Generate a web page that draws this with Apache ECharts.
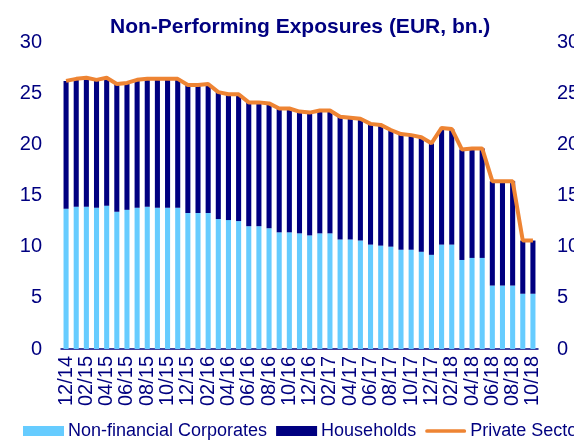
<!DOCTYPE html>
<html>
<head>
<meta charset="utf-8">
<title>Non-Performing Exposures</title>
<script src="https://cdn.jsdelivr.net/npm/echarts@6/dist/echarts.min.js"></script>
<style>
  html, body { margin: 0; padding: 0; background: #fff; }
  #chart { width: 574px; height: 441px; }
</style>
</head>
<body>
<div id="chart"></div>
<script>
// monthly, 12/14 .. 10/18
var months = [
  "12/14", "01/15", "02/15", "03/15", "04/15", "05/15", "06/15", "07/15", "08/15", "09/15", "10/15", "11/15",
  "12/15", "01/16", "02/16", "03/16", "04/16", "05/16", "06/16", "07/16", "08/16", "09/16", "10/16", "11/16",
  "12/16", "01/17", "02/17", "03/17", "04/17", "05/17", "06/17", "07/17", "08/17", "09/17", "10/17", "11/17",
  "12/17", "01/18", "02/18", "03/18", "04/18", "05/18", "06/18", "07/18", "08/18", "09/18", "10/18"
];
var corporates = [
  13.7, 13.9, 13.9, 13.8, 14.0, 13.4, 13.6, 13.8, 13.9, 13.8, 13.8, 13.8,
  13.3, 13.3, 13.3, 12.7, 12.6, 12.5, 12.0, 12.0, 11.8, 11.4, 11.4, 11.3,
  11.1, 11.3, 11.3, 10.7, 10.7, 10.6, 10.2, 10.1, 10.0, 9.7, 9.7, 9.5,
  9.2, 10.2, 10.2, 8.7, 8.9, 8.9, 6.2, 6.2, 6.2, 5.4, 5.4
];
var households = [
  12.5, 12.5, 12.6, 12.5, 12.5, 12.5, 12.4, 12.5, 12.5, 12.6, 12.6, 12.6,
  12.5, 12.5, 12.6, 12.4, 12.3, 12.4, 12.1, 12.1, 12.2, 12.1, 12.1, 11.9,
  12.0, 12.0, 12.0, 12.0, 11.9, 11.9, 11.8, 11.8, 11.4, 11.3, 11.2, 11.2,
  10.9, 11.4, 11.3, 10.8, 10.7, 10.7, 10.2, 10.2, 10.2, 5.2, 5.2
];
var privateSector = [
  26.2, 26.4, 26.5, 26.3, 26.5, 25.9, 26.0, 26.3, 26.4, 26.4, 26.4, 26.4,
  25.8, 25.8, 25.9, 25.1, 24.9, 24.9, 24.1, 24.1, 24.0, 23.5, 23.5, 23.2,
  23.1, 23.3, 23.3, 22.7, 22.6, 22.5, 22.0, 21.9, 21.4, 21.0, 20.9, 20.7,
  20.1, 21.6, 21.5, 19.5, 19.6, 19.6, 16.4, 16.4, 16.4, 10.6, 10.6
];

var navy = "#000080";
var orange = "#EE8433";
var font = "Liberation Sans, Arial, sans-serif";

var chart = echarts.init(document.getElementById("chart"));
var valueAxis = function (pos) {
  return {
    type: "value",
    position: pos,
    min: 0,
    max: 30,
    interval: 5,
    axisLine: { show: false },
    axisTick: { show: false },
    splitLine: { show: false },
    axisLabel: { color: navy, fontSize: 20, fontFamily: font, margin: 19 }
  };
};

chart.setOption({
  animation: false,
  title: {
    text: "Non-Performing Exposures (EUR, bn.)",
    left: 105,
    top: 12,
    textStyle: { color: navy, fontSize: 21, fontWeight: "bold", fontFamily: font }
  },
  legend: {
    left: 18,
    top: 417,
    width: 1000,
    itemWidth: 41,
    itemHeight: 10,
    itemGap: 9,
    textStyle: { color: navy, fontSize: 18, fontFamily: font, padding: [0, 0, 0, -1] },
    data: [
      { name: "Non-financial Corporates", icon: "rect" },
      { name: "Households", icon: "rect" },
      // thick rounded line, like the plotted series
      { name: "Private Sector", icon: "path://M2,0 L42,0 A2,2 0 0 1 42,4 L2,4 A2,2 0 0 1 2,0 Z" }
    ]
  },
  // right-hand labels run off the page in the original, so don't let the grid shrink
  grid: { left: 61, right: 36, top: 42, bottom: 92, outerBoundsMode: "none" },
  xAxis: {
    type: "category",
    data: months,
    axisLine: { lineStyle: { color: navy, width: 1.5 } },
    axisTick: { interval: 1, length: 5, lineStyle: { color: navy } },
    axisLabel: { interval: 1, rotate: 90, color: navy, fontSize: 20, fontFamily: font, margin: 7 }
  },
  yAxis: [valueAxis("left"), valueAxis("right")],
  series: [
    {
      name: "Non-financial Corporates",
      type: "bar",
      stack: "npe",
      barWidth: "50%",
      itemStyle: { color: "#66CCFF" },
      data: corporates
    },
    {
      name: "Households",
      type: "bar",
      stack: "npe",
      barWidth: "50%",
      itemStyle: { color: navy },
      data: households
    },
    {
      name: "Private Sector",
      type: "line",
      symbol: "none",
      lineStyle: { color: orange, width: 4 },
      itemStyle: { color: orange },
      data: privateSector
    }
  ]
});
</script>
</body>
</html>
